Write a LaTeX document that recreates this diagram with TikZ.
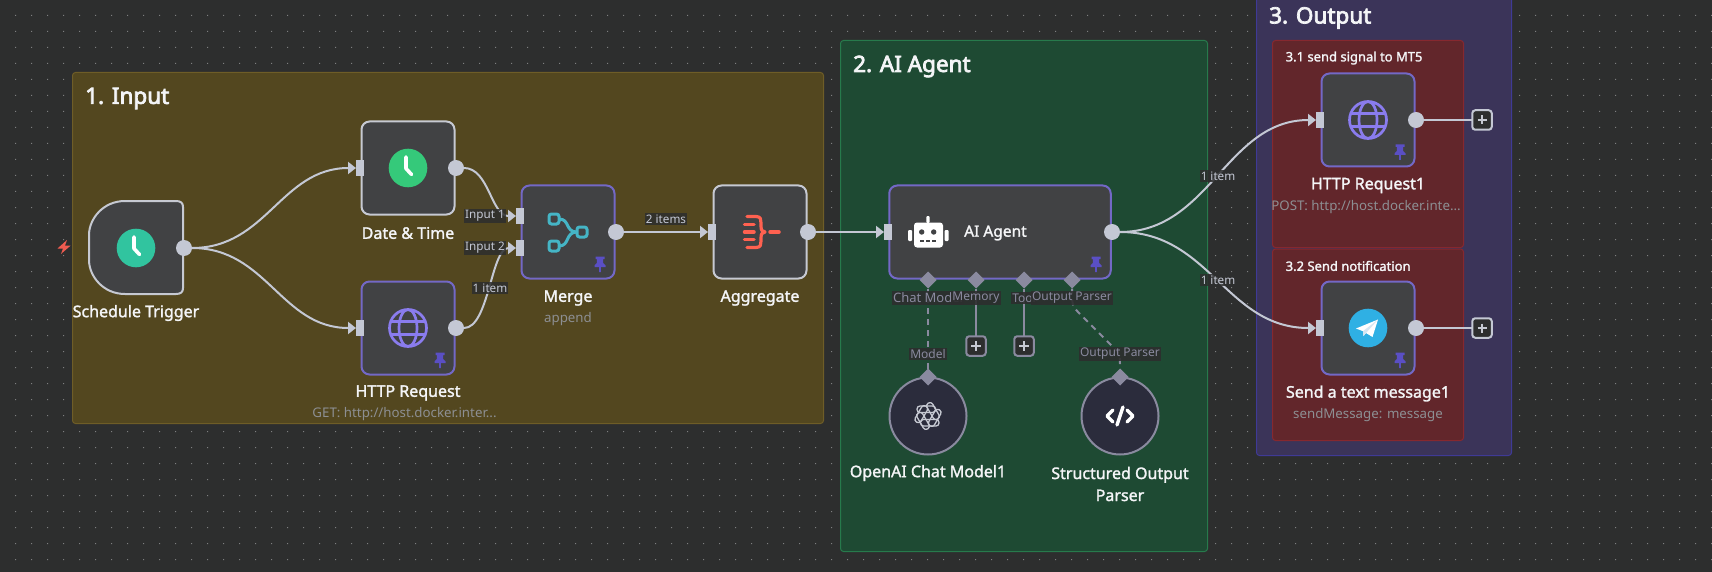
\documentclass[tikz,border=0pt]{standalone}
\usepackage{fontspec}
\setmainfont{Noto Sans}
\newfontfamily\medfont[FakeBold=1.6]{Noto Sans}
\newfontfamily\titlefont[FakeBold=3.2]{Noto Sans}
\usetikzlibrary{arrows.meta,calc,shapes.geometric}
\definecolor{bgc}{HTML}{2D2E2E}
\definecolor{dotc}{HTML}{7E7F80}
\definecolor{gA}{HTML}{53471F}\definecolor{gAb}{HTML}{6E5D27}
\definecolor{gB}{HTML}{1E4A33}\definecolor{gBb}{HTML}{277A4C}
\definecolor{gC}{HTML}{3B3459}\definecolor{gCb}{HTML}{3F3A96}
\definecolor{gD}{HTML}{62262B}\definecolor{gDb}{HTML}{86282F}
\definecolor{nodef}{HTML}{414244}
\definecolor{white1}{HTML}{C6C9D2}
\definecolor{purp}{HTML}{7368C6}
\definecolor{port}{HTML}{C4C8D4}
\definecolor{sub}{HTML}{8D8F93}
\definecolor{subp}{HTML}{8A8A9F}
\definecolor{pinc}{HTML}{5A4FC4}
\definecolor{globec}{HTML}{8A7CEE}
\definecolor{txt}{HTML}{F4F5F7}
\definecolor{circf}{HTML}{2B2C3C}
\definecolor{lblbg}{HTML}{2D2E2E}
\definecolor{clkA}{HTML}{31C49F}\definecolor{clkB}{HTML}{35C97A}
\definecolor{boltc}{HTML}{EF5B50}
\definecolor{mrgc}{HTML}{45B5C6}
\definecolor{aggc}{HTML}{FF6150}
\definecolor{tgc}{HTML}{2FB0E4}
\definecolor{tgf}{HTML}{D5E6F2}
\tikzset{
 groupbox/.style={rounded corners=3pt,line width=1pt},
 plainnode/.style={draw=white1,fill=nodef,line width=2pt,rounded corners=8pt,minimum width=93pt,minimum height=93pt,inner sep=0pt,outer sep=0pt},
 pinnode/.style={plainnode,draw=purp},
 widenode/.style={pinnode,minimum width=221.5pt},
 circnode/.style={circle,draw=subp,fill=circf,line width=2pt,minimum size=77pt,inner sep=0pt,outer sep=0pt},
 outport/.style={circle,fill=port,minimum size=16pt,inner sep=0pt,outer sep=0pt},
 inport/.style={rectangle,fill=port,minimum width=8pt,minimum height=16pt,inner sep=0pt,outer sep=0pt},
 diaport/.style={diamond,fill=subp,minimum size=17pt,inner sep=0pt,outer sep=0pt},
 conn/.style={draw=port,line width=2pt,-{Triangle[length=8pt,width=12pt,fill=port]}},
 plainline/.style={draw=port,line width=2pt},
 subline/.style={draw=subp,line width=2pt},
 subdash/.style={draw=subp,line width=2pt,dash pattern=on 6pt off 5pt},
 nlabel/.style={font=\medfont\fontsize{16}{20}\selectfont,text=txt,inner sep=0pt,align=center},
 slabel/.style={font=\fontsize{13.3}{15}\selectfont,text=sub,inner sep=0pt},
 title/.style={font=\titlefont\fontsize{22.5}{27}\selectfont,text=txt,inner sep=0pt,anchor=west},
 subtitle/.style={font=\medfont\fontsize{13}{16}\selectfont,text=txt,inner sep=0pt,anchor=west},
 clabel/.style={font=\fontsize{11.7}{14}\selectfont,text=port,fill=lblbg,fill opacity=.85,text opacity=1,inner xsep=1pt,inner ysep=1.5pt},
 plabel/.style={font=\fontsize{12}{14}\selectfont,text=subp,fill=lblbg,fill opacity=.9,text opacity=1,inner xsep=1pt,inner ysep=1.5pt},
 plusbox/.style={rectangle,rounded corners=3pt,fill=bgc,line width=2pt,minimum size=19.5pt,inner sep=0pt,outer sep=0pt},
}
\newcommand{\pinicon}[2]{\begin{scope}[shift={(#1,#2)}]
 \fill[pinc] (-4.5,-7.5) rectangle (4.5,-5) (-3,-5) -- (3,-5) -- (3.2,-1) -- (5.5,1.5) -- (5.5,3) -- (-5.5,3) -- (-5.5,1.5) -- (-3.2,-1) -- cycle (-0.9,3) rectangle (0.9,8);
\end{scope}}
\newcommand{\clockicon}[3]{\begin{scope}[shift={(#1,#2)}]
 \fill[#3] (0,0) circle (19.3);
 \draw[white,line width=3.6pt,line cap=round,line join=round] (-2,-11) -- (-2,0.5) -- (3.5,6.5);
\end{scope}}
\newcommand{\globeicon}[2]{\begin{scope}[shift={(#1,#2)}]
 \draw[globec,line width=2.7pt] (0,0) circle (18.5) (0,0) ellipse [x radius=9,y radius=18.5] (-17,-6.5) -- (17,-6.5) (-17,6.5) -- (17,6.5);
\end{scope}}
\begin{document}
\begin{tikzpicture}[x=1pt,y=-1pt]
\useasboundingbox (0,0) rectangle (1712,572);
\fill[bgc] (0,0) rectangle (1712,572);
\fill[dotc] \foreach \i in {0,...,106}{\foreach \j in {0,...,35}{ ({15+16*\i},{15+16*\j}) rectangle ++(1,1)}};
% groups
\draw[groupbox,fill=gA,draw=gAb] (72.5,72.5) rectangle (823.5,423.5);
\draw[groupbox,fill=gB,draw=gBb] (840.5,40.5) rectangle (1207.5,551.5);
\draw[groupbox,fill=gC,draw=gCb] (1256.5,-20) rectangle (1511.5,455.5);
\draw[groupbox,fill=gD,draw=gDb] (1272.5,40.5) rectangle (1463.5,247.5);
\draw[groupbox,fill=gD,draw=gDb] (1272.5,249) rectangle (1463.5,440.5);
\node[title] (t1) at (85,98.5) {1. Input};
\node[title] (t2) at (853,66.5) {2. AI Agent};
\node[title] (t3) at (1269,18) {3. Output};
\node[subtitle] (t31) at (1285.5,58) {3.1 send signal to MT5};
\node[subtitle] (t32) at (1285.5,266) {3.2 Send notification};
% trigger
\draw[draw=white1,fill=nodef,line width=2pt,line join=round] (125,201) .. controls (103,201) and (89,219) .. (89,235) -- (89,260) .. controls (89,276) and (103,294) .. (125,294) -- (176,294) .. controls (181,294) and (183,292) .. (183,288) -- (183,207) .. controls (183,203) and (181,201) .. (176,201) -- cycle;
\clockicon{136}{248}{clkA}
\node[outport] (trgO) at (184,248) {};
\fill[boltc] (67,240) -- (57.5,248.5) -- (63,248.5) -- (61,254) -- (70.7,245.5) -- (65,245.5) -- cycle;
% date & time
\node[plainnode] (dt) at (408,168) {};
\clockicon{408}{168}{clkB}
\node[outport] (dtO) at (456,168) {};
\node[inport] (dtI) at (360,168) {};
\node[nlabel] (dtL) at (408,233) {Date \& Time};
\node[nlabel] (trgL) at (136,313) {Schedule Trigger};
% http
\node[pinnode] (http) at (408,328) {};
\globeicon{408}{328}
\pinicon{440}{360}
\node[outport] (httpO) at (456,328) {};
\node[inport] (httpI) at (360,328) {};
\node[nlabel] (httpL) at (408,393) {HTTP Request};
\node[slabel] (httpS) at (404.5,414.5) {GET: http://host.docker.inter...};
% merge
\node[pinnode] (mrg) at (568,232) {};
\begin{scope}[shift={(568,232)}]
 \draw[mrgc,line width=3pt,rounded corners=2.5pt] (-19,-18) rectangle (-9,-8) (-19,9) rectangle (-9,19) (9,-5) rectangle (19,5);
 \draw[mrgc,line width=3pt] (-9,-13) .. controls (2,-13) and (-3,0) .. (9,0) (-9,14) .. controls (2,14) and (-3,0) .. (9,0);
\end{scope}
\pinicon{600}{264}
\node[outport] (mrgO) at (616,232) {};
\node[inport] (mrgA) at (520,216) {};
\node[inport] (mrgB) at (520,248) {};
\node[nlabel] (mrgL) at (568,298) {Merge};
\node[slabel] (mrgS) at (568,319.5) {append};
% aggregate
\node[plainnode] (agg) at (760,232) {};
\begin{scope}[shift={(760,232)}]
 \draw[aggc,line width=3.2pt,line cap=round,line join=round] (-13,-15.5) -- (-4,-15.5) .. controls (1,-15.5) and (1,-12) .. (1,-9) -- (1,-6) .. controls (1,-2) and (2,0) .. (5,0) .. controls (2,0) and (1,2) .. (1,6) -- (1,9) .. controls (1,12) and (1,15.5) .. (-4,15.5) -- (-13,15.5);
 \draw[aggc,line width=3.5pt,line cap=round] (-15.5,-7.5) -- (-6,-7.5) (-15.5,0) -- (-6,0) (-15.5,7.5) -- (-6,7.5) (10,0) -- (19,0);
\end{scope}
\node[outport] (aggO) at (808,232) {};
\node[inport] (aggI) at (712,232) {};
\node[nlabel] (aggL) at (760,298) {Aggregate};
% agent
\node[widenode] (ai) at (1000,232) {};
\begin{scope}[shift={(928,232)}]
 \fill[white,rounded corners=3pt] (-14,-9.5) rectangle (15,15.5);
 \fill[white,rounded corners=1pt] (-1.7,-16) rectangle (1.7,-9) (-20,-2) rectangle (-16,9) (16.5,-2) rectangle (20.5,9);
 \fill[nodef] (-6.3,0) circle (2.7) (5.7,0) circle (2.7);
 \draw[nodef,line width=1.8pt,dash pattern=on 4pt off 2pt] (-8,9) -- (8,9);
\end{scope}
\node[font=\medfont\fontsize{15.5}{18}\selectfont,text=txt,inner sep=0pt,anchor=west] (aiT) at (964,233) {AI Agent};
\pinicon{1096}{264}
\node[outport] (aiO) at (1112,232) {};
\node[inport] (aiI) at (888,232) {};
% circle nodes
\node[circnode] (oai) at (928,416) {};
\begin{scope}[shift={(928,416)}]
 \foreach \a in {0,60,...,300}{\draw[white1,line width=1.3pt,rounded corners=3pt,rotate=\a] (-7.5,3.5) rectangle (11,10);}
\end{scope}
\node[circnode] (sop) at (1120,416) {};
\begin{scope}[shift={(1120,416)}]
 \draw[white,line width=3.4pt,line cap=round,line join=round] (-7,-6) -- (-13,0) -- (-7,6) (7,-6) -- (13,0) -- (7,6);
 \draw[white,line width=3.4pt,line cap=round] (3,-9) -- (-3,9);
\end{scope}
\node[diaport] (dA) at (928,280) {};
\node[diaport] (dB) at (976,280) {};
\node[diaport] (dC) at (1024,280) {};
\node[diaport] (dD) at (1072,280) {};
\node[diaport] (mA) at (928,377) {};
\node[diaport] (mB) at (1120,377) {};
\node[plusbox,draw=subp] (pA) at (976,346) {};
\node[plusbox,draw=subp] (pB) at (1024,346) {};
\draw[subline] (dB) -- (pA);
\draw[subline] (dC) -- (pB);
\draw[subdash] (mA) -- (dA);
\draw[subdash] (dD) .. controls ($(dD)+(0,25)$) .. ($(dD)+(6,32)$) -- ($(mB)+(-7,-30)$) .. controls ($(mB)+(0,-23)$) .. (mB);
\foreach \p in {pA,pB}{\draw[white1,line width=1.8pt] ($(\p)+(-5,0)$) -- ($(\p)+(5,0)$) ($(\p)+(0,-5)$) -- ($(\p)+(0,5)$);}
\node[plabel,font=\fontsize{13}{14}\selectfont] (lA) at (928,298) {Chat Model};
\node[plabel] (lB) at (976,298) {Memory};
\node[plabel] (lC) at (1024,298) {Tool};
\node[plabel] (lD) at (1072,298) {Output Parser};
\node[plabel] (lE) at (928,354) {Model};
\node[plabel] (lF) at (1120,354) {Output Parser};
\node[nlabel] (oaiL) at (928,473) {OpenAI Chat Model1};
\node[nlabel] (sopL) at (1120,484) {Structured Output\\[2pt]Parser};
% output nodes
\node[pinnode] (h1) at (1368,120) {};
\globeicon{1368}{120}
\pinicon{1400}{152}
\node[outport] (h1O) at (1416,120) {};
\node[inport] (h1I) at (1320,120) {};
\node[nlabel] (h1L) at (1368,185.5) {HTTP Request1};
\node[slabel] (h1S) at (1366,207.5) {POST: http://host.docker.inte...};
\node[pinnode] (tg) at (1368,328) {};
\begin{scope}[shift={(1368,328)}]
 \fill[tgc] (0,0) circle (19.3);
 \fill[white] (-12,0.5) -- (10,-8.5) -- (4.5,9) -- (-2,5) -- (-4.5,8) -- (-5,3.2) -- cycle;
 \fill[tgf] (-5,3.2) -- (10,-8.5) -- (-2,5) -- (-4.5,8) -- cycle;
\end{scope}
\pinicon{1400}{360}
\node[outport] (tgO) at (1416,328) {};
\node[inport] (tgI) at (1320,328) {};
\node[nlabel] (tgL) at (1368,393.5) {Send a text message1};
\node[slabel] (tgS) at (1368,415.5) {sendMessage: message};
\node[plusbox,draw=port] (p1) at (1482,120) {};
\node[plusbox,draw=port] (p2) at (1482,328) {};
\foreach \p in {p1,p2}{\draw[white1,line width=1.8pt] ($(\p)+(-4.5,0)$) -- ($(\p)+(4.5,0)$) ($(\p)+(0,-4.5)$) -- ($(\p)+(0,4.5)$);}
% connectors
\draw[conn] (trgO.east) .. controls ($(trgO.east)+(75,0)$) and ($(dtI.west)+(-75,0)$) .. (dtI.west);
\draw[conn] (trgO.east) .. controls ($(trgO.east)+(75,0)$) and ($(httpI.west)+(-75,0)$) .. (httpI.west);
\draw[conn] (dtO.east) .. controls ($(dtO.east)+(25,0)$) and ($(mrgA.west)+(-25,0)$) .. (mrgA.west);
\draw[conn] (httpO.east) .. controls ($(httpO.east)+(25,0)$) and ($(mrgB.west)+(-25,0)$) .. (mrgB.west);
\draw[conn] (mrgO.east) -- (aggI.west);
\draw[conn] (aggO.east) -- (aiI.west);
\draw[conn] (aiO.east) .. controls ($(aiO.east)+(90,0)$) and ($(h1I.west)+(-90,0)$) .. (h1I.west);
\draw[conn] (aiO.east) .. controls ($(aiO.east)+(90,0)$) and ($(tgI.west)+(-90,0)$) .. (tgI.west);
\draw[plainline] (h1O) -- (p1);
\draw[plainline] (tgO) -- (p2);
\node[clabel,anchor=east] (cA) at (506,216) {Input 1};
\node[clabel,anchor=east] (cB) at (506,248) {Input 2};
\node[clabel] (cC) at (490,288) {1 item};
\node[clabel] (cD) at (666,219) {2 items};
\node[clabel] (cE) at (1218,176) {1 item};
\node[clabel] (cF) at (1218,280) {1 item};
\end{tikzpicture}
\end{document}
